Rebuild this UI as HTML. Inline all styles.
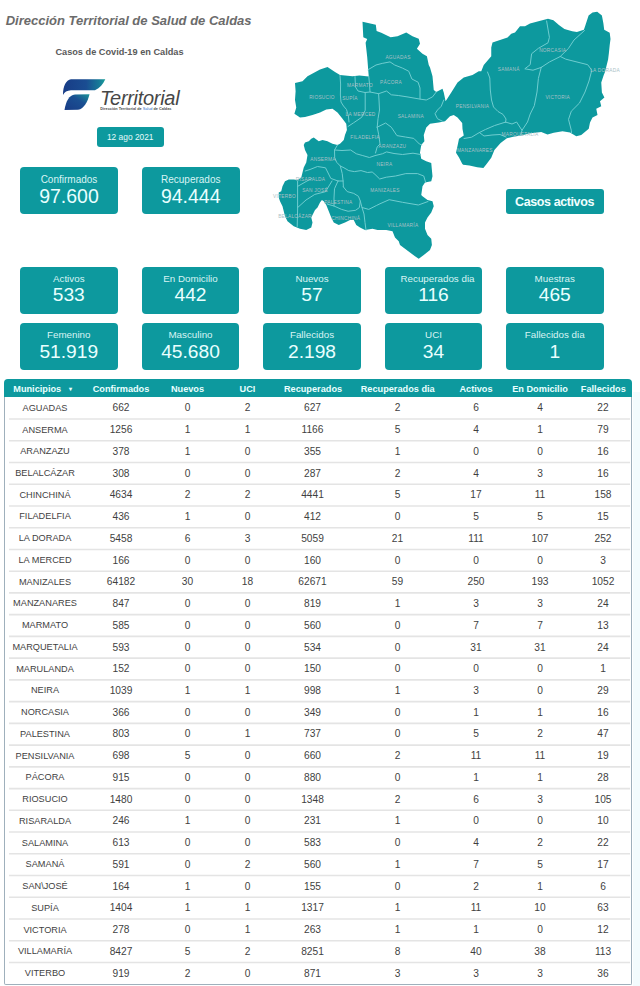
<!DOCTYPE html>
<html><head><meta charset="utf-8"><title>Casos Covid-19 Caldas</title>
<style>
*{box-sizing:border-box;margin:0;padding:0}
html,body{width:640px;height:986px;background:#fff;overflow:hidden}
body{position:relative;font-family:"Liberation Sans",Arial,sans-serif}
.abs{position:absolute}
.title{position:absolute;left:5.7px;top:12.7px;font-size:13px;font-weight:bold;font-style:italic;color:#6b6b6b;white-space:nowrap}
.sub{position:absolute;left:55.4px;top:47.4px;font-size:9.2px;font-weight:bold;color:#5a5a5a;white-space:nowrap}
.date{position:absolute;left:97px;top:127px;width:66.5px;height:20px;background:#0d999e;border-radius:3px;color:#e6fbfb;font-size:8.4px;text-align:center;line-height:20px}
.card{position:absolute;background:#0d999e;border-radius:4px;color:#e9ffff;text-align:center}
.big{width:98px;height:47.5px;top:166.75px}
.big .lab{color:#d8f4f4;position:absolute;left:0;right:0;top:7px;font-size:10px;line-height:12px}
.big .val{position:absolute;left:0;right:0;top:18.2px;font-size:19.5px;line-height:22px}
.sm{width:97.5px;height:47.5px}
.sm .lab{position:absolute;left:0;right:0;top:6.3px;font-size:9.8px;color:#d8f4f4;line-height:11px}
.sm .val{position:absolute;left:0;right:0;top:17.8px;font-size:19.2px;line-height:22px}
.btn{position:absolute;left:505.5px;top:188.5px;width:98px;height:25.75px;background:#0d999e;border-radius:3px;color:#f0ffff;font-weight:bold;font-size:12.5px;letter-spacing:-0.4px;text-align:center;line-height:26px}
.tbl{position:absolute;left:5.5px;top:378.75px;width:624.5px;height:605.23px;background:#fff}
.tbl::before{content:'';position:absolute;left:-1.5px;right:-1.5px;top:18.25px;bottom:-1.5px;border:1.5px solid #9fb0bc;border-top:none;border-radius:0 0 2px 2px}
.thead{position:absolute;left:-1.5px;top:0;right:-1.5px;height:18.25px;border-radius:4px 4px 0 0;background:#0d999e;color:#eaffff;font-weight:bold;font-size:9.2px;line-height:18.25px}
.thead span,.tr span{position:absolute;top:0.4px;transform:translateX(-50%);white-space:nowrap}
.tr span.n{font-size:9.2px;top:0.8px}
.thead span{top:0.8px}
.car{position:relative!important;transform:none!important;font-size:5.5px;margin-left:5px;vertical-align:1px}
.tr{position:absolute;left:0;right:0;height:21.74px;line-height:21.74px;font-size:10.2px;color:#3f3f3f}
.logo-t{position:absolute;left:100px;top:86.5px;font-size:20px;font-style:italic;color:#474747;letter-spacing:-0.3px;white-space:nowrap}
.logo-s{position:absolute;left:100.3px;top:106.7px;font-size:3.8px;font-weight:bold;color:#4a4a4a;white-space:nowrap}
.logo-s b{color:#2a6fd0;font-weight:normal}
svg text{font-family:"Liberation Sans",Arial,sans-serif}
</style></head>
<body>
<div class="title">Dirección Territorial de Salud de Caldas</div>
<div class="sub">Casos de Covid-19 en Caldas</div>

<svg class="abs" style="left:0;top:0" width="200" height="120" viewBox="0 0 200 120">
<defs><linearGradient id="g1" x1="0" y1="0" x2="1" y2="0"><stop offset="0" stop-color="#183c86"/><stop offset="0.55" stop-color="#1a4d92"/><stop offset="0.85" stop-color="#177a98"/><stop offset="1" stop-color="#1aa099"/></linearGradient>
<linearGradient id="g2" x1="0" y1="1" x2="1" y2="0"><stop offset="0" stop-color="#183c86"/><stop offset="0.6" stop-color="#1a4f92"/><stop offset="1" stop-color="#1a9498"/></linearGradient></defs>
<path d="M71,79.3 L105.3,79.3 C103,84 100,88 95,90.3 L71,90.3 C67,90.5 64.5,92 63,95 C63,86 66,80 71,79.3 Z" fill="url(#g1)"/>
<path d="M89.5,94.3 L75,94.4 C69,95 66,101 64.5,110 L78,109.8 C84,109 88,101 89.5,94.3 Z" fill="url(#g2)"/>
</svg>
<div class="logo-t">Territorial</div>
<div class="logo-s">Dirección Territorial de <b>Salud</b> de Caldas</div>

<div class="date">12 ago 2021</div>
<div class="card big" style="left:20px"><div class="lab">Confirmados</div><div class="val">97.600</div></div>
<div class="card big" style="left:141.75px"><div class="lab">Recuperados</div><div class="val">94.444</div></div>

<svg class="abs" style="left:0;top:0" width="640" height="265" viewBox="0 0 640 265">
<path d="M295,83.1 L302.5,81.25 L307.5,76.25 L320,69.4 L327.5,66.9 L335,71.9 L340,75 L345,75.6 L352.5,76.25 L359.4,75.6 L368.75,76.4 L367.2,56.9 L365.6,42.8 L367.2,38.9 L363.3,37.3 L362.5,21.7 L375.8,24.8 L376.6,31.1 L381.25,32.7 L390.6,37.3 L397.5,36.25 L406.25,32.5 L412.5,36.25 L418.75,38.75 L420,43.75 L416.9,48.75 L422.5,53.75 L426.9,56.25 L428.75,65 L430,67.5 L432.5,76.25 L433.75,90 L436.25,91.9 L442.5,88.75 L443.75,92.5 L445.6,101.25 L451.25,92.5 L457.5,82.5 L463.75,77.5 L472.5,75 L478.75,71.25 L481.25,71.25 L483.75,65 L491.25,56.25 L491.25,47.5 L492.5,42.5 L500,40 L507.5,37.5 L511.25,33.75 L515,32.5 L520,26.25 L525,26.25 L530,23.4 L539.4,21.1 L548,18.75 L553.4,20.3 L558.9,25 L564.4,28.9 L572.2,31.25 L576.9,32 L583.9,29.7 L585.5,25 L588.6,15.6 L592.5,12.5 L597.2,11.7 L601.9,15.6 L603.4,23.4 L604.2,29.7 L609.7,32.8 L610.5,39 L609.7,45.3 L608.9,53.1 L608.1,59.4 L606.6,65.6 L605,71.9 L603.75,75 L601.25,82.5 L601.9,92.5 L604.4,97.5 L600,101.25 L601.25,106.25 L596.25,108.75 L597.5,115 L592.5,117.5 L590,122.5 L588.75,128.75 L581.25,135 L576.25,136.25 L570,132.5 L562.5,131.25 L553.75,132.8 L547.5,134.4 L541.25,132 L535,132.8 L528.75,133.6 L522.5,135.2 L513.1,136.7 L506.9,138.3 L500.6,143 L494.4,150 L491.25,157.8 L486.6,164 L483.4,168 L477.2,167.2 L469.4,165.6 L463.1,164.8 L462.2,163.75 L459,157.5 L456,152.8 L457.5,146 L459,138.75 L463.75,135.6 L462.5,129 L462.2,123 L457.5,117.5 L453.75,115 L450,116.25 L445,121.25 L438.75,122.5 L430,123.75 L426.25,127.5 L423.75,135 L424.4,141.25 L421.25,145 L420,152.5 L421.25,158.75 L426.25,161.25 L431.25,163.1 L431.9,170 L432.5,176.25 L431.25,181.25 L425,182.5 L422.5,186.25 L421.25,195 L422.5,196.25 L427.5,200 L432.5,201.25 L433.75,206.25 L431.25,212.5 L427.5,217.5 L425,222.5 L425,228.75 L427.5,235 L431.25,238.75 L431.9,245 L430,250 L423.75,255 L418.75,258.75 L415,256.25 L410,252.5 L405,248.75 L400,245 L398.75,241.25 L395,237.5 L392.5,231.25 L386.25,230 L377.5,230 L372.5,228.75 L365,230 L360,227.5 L356.25,225 L353.75,220 L350,220 L345,222.5 L338.75,225 L333.75,222.5 L331.25,217.5 L328.75,211.25 L326.25,205 L323.75,201.25 L321.9,200 L320,202.5 L317.5,207.5 L315,210 L312.5,215 L311.25,217.5 L312.5,222.5 L311.25,227.5 L306.25,230 L300,228.75 L293.75,226.25 L287.5,221.25 L285,216.25 L283.75,211.25 L282.5,206.25 L280,201.25 L278.75,197.5 L278.75,192.5 L281.25,191.25 L282.5,186.25 L285,181.25 L288.75,179.4 L293.75,179.4 L297.5,180 L301.25,177.5 L302.5,172.5 L303.75,167.5 L306.25,162.5 L307.5,155 L305,150 L303.75,145 L305,142.5 L308.75,141.25 L311.25,138.75 L313.75,137.5 L318.75,141.25 L322.5,140 L327.5,141.25 L332.5,143.75 L337.5,145 L340,143.75 L343.75,140 L345,135 L346.9,130 L346.25,123.75 L342.5,118.75 L337.5,112.5 L332.5,108.75 L326.25,109.4 L320,112.5 L312.5,115 L305,116.9 L300,117.5 L294.4,113.75 L296.25,107.5 L295,100 L295.6,91.25 Z" fill="#0d999e" stroke="none"/>
<g fill="none" stroke="#6fcdd0" stroke-width="1" stroke-linejoin="round" stroke-linecap="round">
<polyline points="340,75.6 340.6,84 340.4,95 341,102 343.5,106 346.5,109.5 348.4,116 349,122"/>
<polyline points="355,76.5 355.5,87 358,91 365,92.5 370,92"/>
<polyline points="368.75,76.4 369.5,84 370,92 378.6,93.7 386.5,91 391.3,94.8 398.3,95.5 408,97 419.4,99 426.25,100 432.5,96.9 436.25,92"/>
<polyline points="365.2,92.8 365.2,110.3 361.7,117.3 353.3,123 348,126.5"/>
<polyline points="368.1,69.7 376,65 382.2,63.4 390,61.9 394.7,65 402.5,68.1 408.75,71.25 411.9,79 418.1,82.2 420,88 420,99"/>
<polyline points="378.6,93.7 379,100 379.5,110 378,118.75 377.2,127.2"/>
<polyline points="377.2,127.2 385.6,123 391.3,127.2 396.9,135.6 405.3,137 413.8,138.4 419.4,144 421.8,145"/>
<polyline points="377.2,127.2 378.6,134.2 380,144 377.2,146.9 375.5,153"/>
<polyline points="334.5,150 342,150.5 350.6,150 356.25,153.75 362.8,155.6 369.4,157.5 375,155.6 382.5,153.75 386.5,151.9 394,153.5 402.5,154.5 413,153.2 420.5,154.5"/>
<polyline points="337.5,145 334.5,150 334.7,157.5 336.6,162.2 340.3,166 342.2,173.4 343.1,181 343.4,186.9"/>
<polyline points="338,181 343.1,181"/>
<polyline points="340.3,166 344,167.8 348.75,170.6 354.4,171.6 361,170.6 367.5,172.5 372.2,172 375,174.4 379.7,179 386.25,177.2 395.6,176 405.8,173.6 417.5,173.6 423.75,176 425.5,182"/>
<polyline points="305.2,171 310,169.5 317.5,166.5 325.5,167.8 330.8,178.4 338,181"/>
<polyline points="297.6,181 297.6,195 297.6,210 297.2,226.5"/>
<polyline points="297.6,186.4 307,181 312,178.5"/>
<polyline points="297.6,207.6 306,200 314.8,194.4 325.5,191.7 332,181"/>
<polyline points="343.4,186.9 347.2,191.6 353.75,193.4 358.4,196.25 360.3,201 359.4,207.5 355.6,210.3 348.1,211.25 341.6,209.4 334,206 327,204"/>
<polyline points="338,181 334.5,188.75 334,198 334,206"/>
<polyline points="360.3,201 362,207.5 364,214 365,222.5 366,230"/>
<polyline points="362,207.5 368.75,209.4 376.25,205.6 380,203.75 389.2,199.7 402.5,202.3 418.4,205 428,201.5"/>
<polyline points="546.6,21 549.4,37.3 548,42.8 538.4,48.3 531.6,53.75 530.2,64.7 524.8,68.8 533,70.2 541.2,67.4"/>
<polyline points="584.5,30.5 574,40 568.5,48.3 560.3,56.5 549.4,62 541.2,67.4"/>
<polyline points="541.2,67.4 538.4,78.4 537,92 534.3,105.7 530.2,114 527.5,122 522,130.3 520.5,135.5"/>
<polyline points="560.3,56.5 565.8,59.2 587.7,64.7 591.8,70.2 589,81 585,92 579.5,103 571.3,111.2 568.5,119.4 571.3,130.3 571.5,133"/>
<polyline points="487.5,72 489.8,78 490.3,90 491.5,100 493.5,107 498,111.5 503,114.4 506,119 505.6,122.1"/>
<polyline points="505.6,122.1 494.7,125.5 485.6,129.4 479.4,132.5 471.6,137.2 464,138.5"/>
<polyline points="479.4,132.5 484,136 492,135 500,134.5 506,137"/>
<polyline points="505.6,122.1 512,124 516.6,122 522,130.3"/>
<polyline points="443.75,100 441.25,106.25 437.5,110 435,113.75 437.5,118.75 442.5,121.25"/>
</g>
<g fill="#a9c0c6" font-size="4.8" letter-spacing="0.25" text-anchor="middle">
<text x="398" y="58.8">AGUADAS</text>
<text x="391" y="84.3">PÁCORA</text>
<text x="360" y="86.6">MARMATO</text>
<text x="322" y="98.8">RIOSUCIO</text>
<text x="350" y="99.8">SUPÍA</text>
<text x="360.6" y="115.55">LA MERCED</text>
<text x="410.8" y="117.6">SALAMINA</text>
<text x="365" y="139.4">FILADELFIA</text>
<text x="392.4" y="148.0">ARANZAZU</text>
<text x="384.4" y="165.55">NEIRA</text>
<text x="323" y="161.4">ANSERMA</text>
<text x="310.5" y="180.8">RISARALDA</text>
<text x="315" y="191.8">SAN JOSÉ</text>
<text x="284.5" y="198.10000000000002">VITERBO</text>
<text x="295" y="218.05">BELALCÁZAR</text>
<text x="338.3" y="204.10000000000002">PALESTINA</text>
<text x="345.8" y="219.60000000000002">CHINCHINÁ</text>
<text x="385" y="191.8">MANIZALES</text>
<text x="403" y="227.4">VILLAMARÍA</text>
<text x="472.5" y="108.05">PENSILVANIA</text>
<text x="508.75" y="70.55">SAMANÁ</text>
<text x="552.7" y="51.8">NORCASIA</text>
<text x="605" y="72.1">LA DORADA</text>
<text x="557.7" y="98.6">VICTORIA</text>
<text x="520" y="136.4">MARQUETALIA</text>
<text x="474.8" y="151.8">MANZANARES</text>
</g>
</svg>

<div class="btn">Casos activos</div>

<div class="card sm" style="left:20px;top:266.5px"><div class="lab">Activos</div><div class="val">533</div></div>
<div class="card sm" style="left:141.75px;top:266.5px"><div class="lab">En Domicilio</div><div class="val">442</div></div>
<div class="card sm" style="left:263.25px;top:266.5px"><div class="lab">Nuevos</div><div class="val">57</div></div>
<div class="card sm" style="left:384.75px;top:266.5px"><div class="lab" style="left:8px">Recuperados dia</div><div class="val">116</div></div>
<div class="card sm" style="left:506px;top:266.5px"><div class="lab">Muestras</div><div class="val">465</div></div>
<div class="card sm" style="left:20px;top:322.75px"><div class="lab">Femenino</div><div class="val">51.919</div></div>
<div class="card sm" style="left:141.75px;top:322.75px"><div class="lab">Masculino</div><div class="val">45.680</div></div>
<div class="card sm" style="left:263.25px;top:322.75px"><div class="lab">Fallecidos</div><div class="val">2.198</div></div>
<div class="card sm" style="left:384.75px;top:322.75px"><div class="lab">UCI</div><div class="val">34</div></div>
<div class="card sm" style="left:506px;top:322.75px"><div class="lab">Fallecidos dia</div><div class="val">1</div></div>

<div class="abs" style="left:632.5px;top:392px;width:7.5px;height:594px;background:#f3fbfd"></div>
<div class="tbl">
<div class="thead"><span style="left:38.50px">Municipios <span class='car'>&#9662;</span></span><span style="left:117.00px">Confirmados</span><span style="left:183.50px">Nuevos</span><span style="left:243.50px">UCI</span><span style="left:309.00px">Recuperados</span><span style="left:393.70px">Recuperados dia</span><span style="left:472.00px">Activos</span><span style="left:536.00px">En Domicilio</span><span style="left:599.30px">Fallecidos</span></div>
<div class="tr" style="top:18.25px"><span class=n style="left:39.50px">AGUADAS</span><span style="left:115.50px">662</span><span style="left:182.00px">0</span><span style="left:242.00px">2</span><span style="left:307.00px">627</span><span style="left:392.00px">2</span><span style="left:470.50px">6</span><span style="left:534.50px">4</span><span style="left:597.50px">22</span></div>
<div class="tr" style="top:39.99px"><span class=n style="left:39.50px">ANSERMA</span><span style="left:115.50px">1256</span><span style="left:182.00px">1</span><span style="left:242.00px">1</span><span style="left:307.00px">1166</span><span style="left:392.00px">5</span><span style="left:470.50px">4</span><span style="left:534.50px">1</span><span style="left:597.50px">79</span></div>
<div class="tr" style="top:61.73px"><span class=n style="left:39.50px">ARANZAZU</span><span style="left:115.50px">378</span><span style="left:182.00px">1</span><span style="left:242.00px">0</span><span style="left:307.00px">355</span><span style="left:392.00px">1</span><span style="left:470.50px">0</span><span style="left:534.50px">0</span><span style="left:597.50px">16</span></div>
<div class="tr" style="top:83.47px"><span class=n style="left:39.50px">BELALCÁZAR</span><span style="left:115.50px">308</span><span style="left:182.00px">0</span><span style="left:242.00px">0</span><span style="left:307.00px">287</span><span style="left:392.00px">2</span><span style="left:470.50px">4</span><span style="left:534.50px">3</span><span style="left:597.50px">16</span></div>
<div class="tr" style="top:105.21px"><span class=n style="left:39.50px">CHINCHINÁ</span><span style="left:115.50px">4634</span><span style="left:182.00px">2</span><span style="left:242.00px">2</span><span style="left:307.00px">4441</span><span style="left:392.00px">5</span><span style="left:470.50px">17</span><span style="left:534.50px">11</span><span style="left:597.50px">158</span></div>
<div class="tr" style="top:126.95px"><span class=n style="left:39.50px">FILADELFIA</span><span style="left:115.50px">436</span><span style="left:182.00px">1</span><span style="left:242.00px">0</span><span style="left:307.00px">412</span><span style="left:392.00px">0</span><span style="left:470.50px">5</span><span style="left:534.50px">5</span><span style="left:597.50px">15</span></div>
<div class="tr" style="top:148.69px"><span class=n style="left:39.50px">LA DORADA</span><span style="left:115.50px">5458</span><span style="left:182.00px">6</span><span style="left:242.00px">3</span><span style="left:307.00px">5059</span><span style="left:392.00px">21</span><span style="left:470.50px">111</span><span style="left:534.50px">107</span><span style="left:597.50px">252</span></div>
<div class="tr" style="top:170.43px"><span class=n style="left:39.50px">LA MERCED</span><span style="left:115.50px">166</span><span style="left:182.00px">0</span><span style="left:242.00px">0</span><span style="left:307.00px">160</span><span style="left:392.00px">0</span><span style="left:470.50px">0</span><span style="left:534.50px">0</span><span style="left:597.50px">3</span></div>
<div class="tr" style="top:192.17px"><span class=n style="left:39.50px">MANIZALES</span><span style="left:115.50px">64182</span><span style="left:182.00px">30</span><span style="left:242.00px">18</span><span style="left:307.00px">62671</span><span style="left:392.00px">59</span><span style="left:470.50px">250</span><span style="left:534.50px">193</span><span style="left:597.50px">1052</span></div>
<div class="tr" style="top:213.91px"><span class=n style="left:39.50px">MANZANARES</span><span style="left:115.50px">847</span><span style="left:182.00px">0</span><span style="left:242.00px">0</span><span style="left:307.00px">819</span><span style="left:392.00px">1</span><span style="left:470.50px">3</span><span style="left:534.50px">3</span><span style="left:597.50px">24</span></div>
<div class="tr" style="top:235.65px"><span class=n style="left:39.50px">MARMATO</span><span style="left:115.50px">585</span><span style="left:182.00px">0</span><span style="left:242.00px">0</span><span style="left:307.00px">560</span><span style="left:392.00px">0</span><span style="left:470.50px">7</span><span style="left:534.50px">7</span><span style="left:597.50px">13</span></div>
<div class="tr" style="top:257.39px"><span class=n style="left:39.50px">MARQUETALIA</span><span style="left:115.50px">593</span><span style="left:182.00px">0</span><span style="left:242.00px">0</span><span style="left:307.00px">534</span><span style="left:392.00px">0</span><span style="left:470.50px">31</span><span style="left:534.50px">31</span><span style="left:597.50px">24</span></div>
<div class="tr" style="top:279.13px"><span class=n style="left:39.50px">MARULANDA</span><span style="left:115.50px">152</span><span style="left:182.00px">0</span><span style="left:242.00px">0</span><span style="left:307.00px">150</span><span style="left:392.00px">0</span><span style="left:470.50px">0</span><span style="left:534.50px">0</span><span style="left:597.50px">1</span></div>
<div class="tr" style="top:300.87px"><span class=n style="left:39.50px">NEIRA</span><span style="left:115.50px">1039</span><span style="left:182.00px">1</span><span style="left:242.00px">1</span><span style="left:307.00px">998</span><span style="left:392.00px">1</span><span style="left:470.50px">3</span><span style="left:534.50px">0</span><span style="left:597.50px">29</span></div>
<div class="tr" style="top:322.61px"><span class=n style="left:39.50px">NORCASIA</span><span style="left:115.50px">366</span><span style="left:182.00px">0</span><span style="left:242.00px">0</span><span style="left:307.00px">349</span><span style="left:392.00px">0</span><span style="left:470.50px">1</span><span style="left:534.50px">1</span><span style="left:597.50px">16</span></div>
<div class="tr" style="top:344.35px"><span class=n style="left:39.50px">PALESTINA</span><span style="left:115.50px">803</span><span style="left:182.00px">0</span><span style="left:242.00px">1</span><span style="left:307.00px">737</span><span style="left:392.00px">0</span><span style="left:470.50px">5</span><span style="left:534.50px">2</span><span style="left:597.50px">47</span></div>
<div class="tr" style="top:366.09px"><span class=n style="left:39.50px">PENSILVANIA</span><span style="left:115.50px">698</span><span style="left:182.00px">5</span><span style="left:242.00px">0</span><span style="left:307.00px">660</span><span style="left:392.00px">2</span><span style="left:470.50px">11</span><span style="left:534.50px">11</span><span style="left:597.50px">19</span></div>
<div class="tr" style="top:387.83px"><span class=n style="left:39.50px">PÁCORA</span><span style="left:115.50px">915</span><span style="left:182.00px">0</span><span style="left:242.00px">0</span><span style="left:307.00px">880</span><span style="left:392.00px">0</span><span style="left:470.50px">1</span><span style="left:534.50px">1</span><span style="left:597.50px">28</span></div>
<div class="tr" style="top:409.57px"><span class=n style="left:39.50px">RIOSUCIO</span><span style="left:115.50px">1480</span><span style="left:182.00px">0</span><span style="left:242.00px">0</span><span style="left:307.00px">1348</span><span style="left:392.00px">2</span><span style="left:470.50px">6</span><span style="left:534.50px">3</span><span style="left:597.50px">105</span></div>
<div class="tr" style="top:431.31px"><span class=n style="left:39.50px">RISARALDA</span><span style="left:115.50px">246</span><span style="left:182.00px">1</span><span style="left:242.00px">0</span><span style="left:307.00px">231</span><span style="left:392.00px">1</span><span style="left:470.50px">0</span><span style="left:534.50px">0</span><span style="left:597.50px">10</span></div>
<div class="tr" style="top:453.05px"><span class=n style="left:39.50px">SALAMINA</span><span style="left:115.50px">613</span><span style="left:182.00px">0</span><span style="left:242.00px">0</span><span style="left:307.00px">583</span><span style="left:392.00px">0</span><span style="left:470.50px">4</span><span style="left:534.50px">2</span><span style="left:597.50px">22</span></div>
<div class="tr" style="top:474.79px"><span class=n style="left:39.50px">SAMANÁ</span><span style="left:115.50px">591</span><span style="left:182.00px">0</span><span style="left:242.00px">2</span><span style="left:307.00px">560</span><span style="left:392.00px">1</span><span style="left:470.50px">7</span><span style="left:534.50px">5</span><span style="left:597.50px">17</span></div>
<div class="tr" style="top:496.53px"><span class=n style="left:39.50px">SAN\JOSÉ</span><span style="left:115.50px">164</span><span style="left:182.00px">1</span><span style="left:242.00px">0</span><span style="left:307.00px">155</span><span style="left:392.00px">0</span><span style="left:470.50px">2</span><span style="left:534.50px">1</span><span style="left:597.50px">6</span></div>
<div class="tr" style="top:518.27px"><span class=n style="left:39.50px">SUPÍA</span><span style="left:115.50px">1404</span><span style="left:182.00px">1</span><span style="left:242.00px">1</span><span style="left:307.00px">1317</span><span style="left:392.00px">1</span><span style="left:470.50px">11</span><span style="left:534.50px">10</span><span style="left:597.50px">63</span></div>
<div class="tr" style="top:540.01px"><span class=n style="left:39.50px">VICTORIA</span><span style="left:115.50px">278</span><span style="left:182.00px">0</span><span style="left:242.00px">1</span><span style="left:307.00px">263</span><span style="left:392.00px">1</span><span style="left:470.50px">1</span><span style="left:534.50px">0</span><span style="left:597.50px">12</span></div>
<div class="tr" style="top:561.75px"><span class=n style="left:39.50px">VILLAMARÍA</span><span style="left:115.50px">8427</span><span style="left:182.00px">5</span><span style="left:242.00px">2</span><span style="left:307.00px">8251</span><span style="left:392.00px">8</span><span style="left:470.50px">40</span><span style="left:534.50px">38</span><span style="left:597.50px">113</span></div>
<div class="tr" style="top:583.49px"><span class=n style="left:39.50px">VITERBO</span><span style="left:115.50px">919</span><span style="left:182.00px">2</span><span style="left:242.00px">0</span><span style="left:307.00px">871</span><span style="left:392.00px">3</span><span style="left:470.50px">3</span><span style="left:534.50px">3</span><span style="left:597.50px">36</span></div>
<svg style="position:absolute;left:0;top:0" width="628" height="610"><g stroke="#e4e4e4" stroke-width="1.6"><line x1="3" x2="624" y1="40.00" y2="40.00"/><line x1="3" x2="624" y1="61.74" y2="61.74"/><line x1="3" x2="624" y1="83.48" y2="83.48"/><line x1="3" x2="624" y1="105.22" y2="105.22"/><line x1="3" x2="624" y1="126.96" y2="126.96"/><line x1="3" x2="624" y1="148.70" y2="148.70"/><line x1="3" x2="624" y1="170.44" y2="170.44"/><line x1="3" x2="624" y1="192.18" y2="192.18"/><line x1="3" x2="624" y1="213.92" y2="213.92"/><line x1="3" x2="624" y1="235.66" y2="235.66"/><line x1="3" x2="624" y1="257.40" y2="257.40"/><line x1="3" x2="624" y1="279.14" y2="279.14"/><line x1="3" x2="624" y1="300.88" y2="300.88"/><line x1="3" x2="624" y1="322.62" y2="322.62"/><line x1="3" x2="624" y1="344.36" y2="344.36"/><line x1="3" x2="624" y1="366.10" y2="366.10"/><line x1="3" x2="624" y1="387.84" y2="387.84"/><line x1="3" x2="624" y1="409.58" y2="409.58"/><line x1="3" x2="624" y1="431.32" y2="431.32"/><line x1="3" x2="624" y1="453.06" y2="453.06"/><line x1="3" x2="624" y1="474.80" y2="474.80"/><line x1="3" x2="624" y1="496.54" y2="496.54"/><line x1="3" x2="624" y1="518.28" y2="518.28"/><line x1="3" x2="624" y1="540.02" y2="540.02"/><line x1="3" x2="624" y1="561.76" y2="561.76"/><line x1="3" x2="624" y1="583.50" y2="583.50"/></g></svg>
</div>
</body></html>
